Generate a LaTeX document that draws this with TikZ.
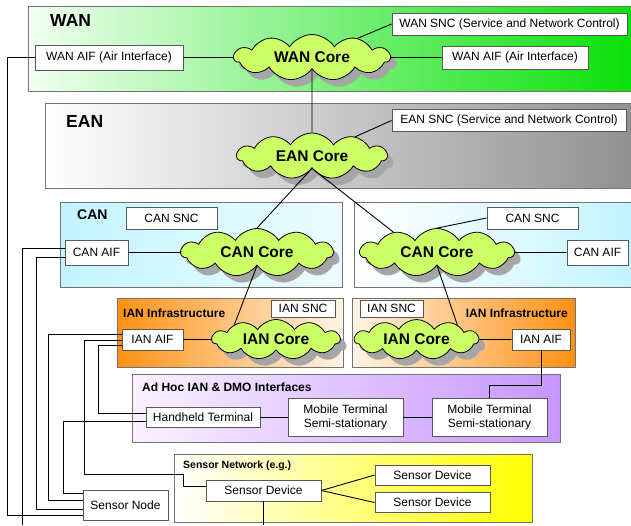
\documentclass[tikz,border=0pt]{standalone}
\usepackage{fontspec}
\setmainfont{Liberation Sans}
\usetikzlibrary{shapes.symbols,shadows,calc}

\definecolor{corefill}{RGB}{204,255,102}
\definecolor{wanL}{RGB}{240,255,240}
\definecolor{wanR}{RGB}{10,225,10}
\definecolor{eanR}{RGB}{145,145,145}
\definecolor{canC}{RGB}{196,244,255}
\definecolor{canW}{RGB}{236,252,255}
\definecolor{ianO}{RGB}{255,145,20}
\definecolor{ianW}{RGB}{255,244,230}
\definecolor{adhL}{RGB}{250,242,255}
\definecolor{adhR}{RGB}{198,150,255}
\definecolor{senR}{RGB}{255,255,0}

\tikzset{
  region/.style={draw=black!55, line width=0.8pt},
  box/.style={draw=black!65, fill=white, line width=0.8pt, inner sep=0pt,
    align=center, font=\fontsize{12}{14}\selectfont},
  core/.style={cloud, cloud puffs=11, cloud puff arc=115, cloud ignores aspect,
    draw=black, line width=0.8pt, fill=corefill, inner sep=0pt,
    font=\bfseries\fontsize{15.5}{18}\selectfont,
    drop shadow={shadow xshift=6pt, shadow yshift=-7pt, fill=black!35, opacity=1}},
  bigtitle/.style={anchor=west, inner sep=0pt, font=\bfseries\fontsize{17.5}{20}\selectfont},
  midtitle/.style={inner sep=0pt, font=\bfseries\fontsize{12}{14}\selectfont},
  wire/.style={draw=black, line width=0.9pt},
}

\begin{document}
\begin{tikzpicture}[x=1pt, y=-1pt]
\useasboundingbox (0,0) rectangle (631,525);

% ---- network layers (background panels)
\path[region, left color=wanL, right color=wanR] (28,6) rectangle (631,91);
\path[region, left color=white, right color=eanR] (45,103) rectangle (631,188);
\path[region, left color=canC, right color=canW] (60,202) rectangle (342,287);
\path[region, left color=white, right color=canC] (354,202) rectangle (631,287);
\path[region, left color=ianO, right color=ianW] (117,298) rectangle (343,367);
\path[region, left color=ianW, right color=ianO] (352,298) rectangle (575,367);
\path[region, left color=adhL, right color=adhR] (132,374) rectangle (560,442);
\path[region, left color=white, right color=senR] (174,454) rectangle (532,522);

% ---- panel titles
\node[bigtitle] (wanlbl) at (50,20) {WAN};
\node[bigtitle] (eanlbl) at (66,121) {EAN};
\node[anchor=west, inner sep=0pt, font=\bfseries\fontsize{14}{16}\selectfont] (canlbl) at (77,215) {CAN};
\node[midtitle, anchor=west] (ianlblL) at (123,313) {IAN Infrastructure};
\node[midtitle, anchor=east] (ianlblR) at (568,313) {IAN Infrastructure};
\node[midtitle, anchor=west] (adhlbl) at (142,387) {Ad Hoc IAN \& DMO Interfaces};
\node[anchor=west, inner sep=0pt, font=\bfseries\fontsize{10.5}{12}\selectfont] (senlbl) at (183,466) {Sensor Network (e.g.)};

% ---- WAN
\node[core, minimum width=156pt, minimum height=46pt] (wancore) at (312,57.5) {WAN Core};
\node[box, minimum width=148pt, minimum height=25pt] (wanaifL) at (109,57.5) {WAN AIF (Air Interface)};
\node[box, minimum width=146pt, minimum height=23pt] (wanaifR) at (515,57.5) {WAN AIF (Air Interface)};
\node[box, minimum width=235pt, minimum height=22pt] (wansnc) at (509.5,24) {WAN SNC (Service and Network Control)};

% ---- EAN
\node[core, minimum width=150pt, minimum height=46pt] (eancore) at (312,156) {EAN Core};
\node[box, minimum width=234pt, minimum height=22pt] (eansnc) at (509,120.5) {EAN SNC (Service and Network Control)};

% ---- CAN
\node[core, minimum width=152pt, minimum height=48pt] (cancoreL) at (257,252.5) {CAN Core};
\node[core, minimum width=154pt, minimum height=48pt] (cancoreR) at (437,252.5) {CAN Core};
\node[box, minimum width=91pt, minimum height=22pt] (cansncL) at (171.5,218) {CAN SNC};
\node[box, minimum width=91pt, minimum height=22pt] (cansncR) at (532.5,218) {CAN SNC};
\node[box, minimum width=63pt, minimum height=25pt] (canaifL) at (96.5,252.5) {CAN AIF};
\node[box, minimum width=61pt, minimum height=25pt] (canaifR) at (597.5,252.5) {CAN AIF};

% ---- IAN
\node[core, minimum width=128pt, minimum height=40pt] (iancoreL) at (276,339.5) {IAN Core};
\node[core, minimum width=124pt, minimum height=40pt] (iancoreR) at (416.5,339.5) {IAN Core};
\node[box, minimum width=64pt, minimum height=17pt] (iansncL) at (303,308.5) {IAN SNC};
\node[box, minimum width=63pt, minimum height=17pt] (iansncR) at (391.5,308.5) {IAN SNC};
\node[box, minimum width=61pt, minimum height=21pt] (ianaifL) at (152.5,339.5) {IAN AIF};
\node[box, minimum width=58pt, minimum height=21pt] (ianaifR) at (541,339.5) {IAN AIF};

% ---- Ad hoc terminals
\node[box, minimum width=114pt, minimum height=20pt] (hh) at (203,417) {Handheld Terminal};
\node[box, minimum width=115pt, minimum height=38pt] (mtM) at (345.5,417) {Mobile Terminal\\Semi-stationary};
\node[box, minimum width=115pt, minimum height=38pt] (mtR) at (489.5,417) {Mobile Terminal\\Semi-stationary};

% ---- Sensors
\node[box, minimum width=115pt, minimum height=21pt] (sdev) at (263.5,490.5) {Sensor Device};
\node[box, minimum width=115pt, minimum height=20pt] (sdevA) at (432.5,475) {Sensor Device};
\node[box, minimum width=115pt, minimum height=20pt] (sdevB) at (432.5,502.5) {Sensor Device};
\node[box, minimum width=85pt, minimum height=30pt] (snode) at (125.5,505) {Sensor Node};

% ---- free wire ends leaving the drawing
\coordinate (canout) at (22,525);
\coordinate (sdevout) at (sdev.south |- 0,525);

% ---- core links
\draw[wire] (wanaifL) -- (wancore);
\draw[wire] (wancore) -- (wanaifR);
\draw[wire] (wancore) -- (wansnc.west);
\draw[wire] (wancore) -- (eancore);
\draw[wire] (eancore) -- (eansnc.west);
\draw[wire] (eancore.south) -- (cancoreL.north);
\draw[wire] (eancore.south) -- (cancoreR.155);
\draw[wire] (canaifL) -- (cancoreL);
\draw[wire] (cancoreR) -- (canaifR);
\draw[wire] (cansncR.west) -- (cancoreR.north);
\draw[wire] (cancoreL.south) -- (iancoreL.160);
\draw[wire] (cancoreR.south) -- (iancoreR.20);
\draw[wire] (ianaifL) -- (iancoreL);
\draw[wire] (iancoreR) -- (ianaifR);
\draw[wire] (hh) -- (mtM);
\draw[wire] (mtM) -- (mtR);
\draw[wire] (ianaifR.south) |- (mtR.north |- 0,385) -- (mtR.north);
\draw[wire] (sdev.east) -- (sdevA.west);
\draw[wire] (sdev.east) -- (sdevB.west);
\draw[wire] (sdev.south) -- (sdevout);

% ---- air-interface wiring down the left side
\draw[wire] (wanaifL.west) -| (7,515) -- (snode.west |- 0,515);
\draw[wire] (canaifL.west |- 0,248) -| (canout);
\draw[wire] (canaifL.west |- 0,257) -| (36,509) -- (snode.west |- 0,509);
\draw[wire] (ianaifL.west |- 0,334) -| (48,500) -- (snode.west |- 0,500);
\draw[wire] (ianaifL.west |- 0,340) -| (84,474) -| (183,486) -- (sdev.west |- 0,486);
\draw[wire] (ianaifL.west |- 0,345) -| (98,413) -- (hh.west |- 0,413);
\draw[wire] (hh.west |- 0,421) -| (63,493) -- (snode.west |- 0,493);
\end{tikzpicture}
\end{document}
